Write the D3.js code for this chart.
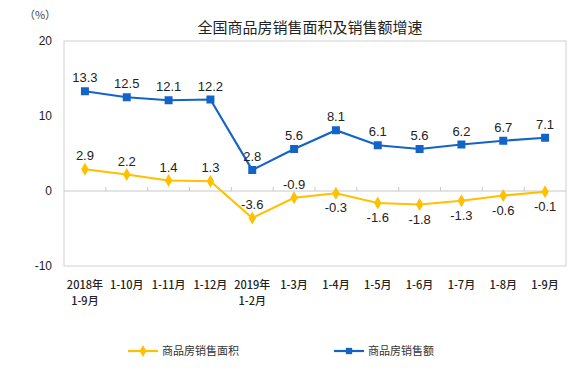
<!DOCTYPE html>
<html>
<head>
<meta charset="utf-8">
<script src="https://cdn.jsdelivr.net/npm/d3@7.9.0/dist/d3.min.js"></script>
<style>
  body { margin: 0; background: #fff; }
  svg { font-family: "Liberation Sans", Arial, sans-serif; }
</style>
</head>
<body>
<svg id="chart" width="580" height="374"></svg>
<script>
const categories = [
  ["2018年", "1-9月"], ["1-10月"], ["1-11月"], ["1-12月"], ["2019年", "1-2月"],
  ["1-3月"], ["1-4月"], ["1-5月"], ["1-6月"], ["1-7月"], ["1-8月"], ["1-9月"]
];
const areaGrowth = [2.9, 2.2, 1.4, 1.3, -3.6, -0.9, -0.3, -1.6, -1.8, -1.3, -0.6, -0.1];
const salesGrowth = [13.3, 12.5, 12.1, 12.2, 2.8, 5.6, 8.1, 6.1, 5.6, 6.2, 6.7, 7.1];
const yTicks = [-10, 0, 10, 20];
// which area labels sit above their point
const areaLabelAbove = [true, true, true, true, true, true, false, false, false, false, false, false];

const plotLeft = 64, plotRight = 566, plotTop = 41, plotBottom = 266;
const svg = d3.select("#chart");
const blue = "#1464c8", yellow = "#ffc000";

const x = d3.scaleBand().domain(d3.range(categories.length)).range([plotLeft, plotRight]);
const y = d3.scaleLinear().domain([-10, 20]).range([plotBottom, plotTop]);
const cx = i => x(i) + x.bandwidth() / 2;

svg.append("text")
  .attr("x", 310).attr("y", 33)
  .attr("text-anchor", "middle")
  .attr("font-family", "'Noto Sans CJK SC', sans-serif")
  .attr("font-size", 15).attr("fill", "#222")
  .text("全国商品房销售面积及销售额增速");

svg.append("text")
  .attr("x", 40).attr("y", 19)
  .attr("text-anchor", "middle")
  .attr("font-family", "'Noto Sans CJK SC', sans-serif")
  .attr("font-size", 11).attr("fill", "#444")
  .text("（%）");

// plot frame
svg.append("rect")
  .attr("x", plotLeft).attr("y", plotTop)
  .attr("width", plotRight - plotLeft).attr("height", plotBottom - plotTop)
  .attr("fill", "none").attr("stroke", "#d0d0d0").attr("stroke-width", 1);

// y axis labels
svg.append("g").selectAll("text").data(yTicks).join("text")
  .attr("x", 52).attr("y", d => y(d) + 4)
  .attr("text-anchor", "end")
  .attr("font-size", 12).attr("fill", "#222")
  .text(d => d);

// zero line with category ticks
svg.append("line")
  .attr("x1", plotLeft).attr("x2", plotRight)
  .attr("y1", y(0)).attr("y2", y(0))
  .attr("stroke", "#c8c8c8");
svg.append("g").selectAll("line").data(d3.range(1, categories.length)).join("line")
  .attr("x1", i => x(i)).attr("x2", i => x(i))
  .attr("y1", y(0)).attr("y2", y(0) - 4)
  .attr("stroke", "#c8c8c8");

// category labels
svg.append("g").selectAll("text").data(categories).join("text")
  .attr("text-anchor", "middle")
  .attr("font-family", "'Noto Sans CJK SC', sans-serif")
  .attr("font-size", 11).attr("font-weight", 500).attr("fill", "#222")
  .each(function (d, i) {
    d3.select(this).selectAll("tspan").data(d).join("tspan")
      .attr("x", cx(i))
      .attr("y", (t, j) => 289 + j * 16)
      .text(t => t);
  });

const line = d3.line().x((d, i) => cx(i)).y(d => y(d));

// sales line
svg.append("path").datum(salesGrowth)
  .attr("d", line).attr("fill", "none")
  .attr("stroke", blue).attr("stroke-width", 2.2);
svg.append("g").selectAll("rect").data(salesGrowth).join("rect")
  .attr("x", (d, i) => cx(i) - 4).attr("y", d => y(d) - 4)
  .attr("width", 8).attr("height", 8).attr("fill", blue);
svg.append("g").selectAll("text").data(salesGrowth).join("text")
  .attr("x", (d, i) => cx(i)).attr("y", d => y(d) - 9)
  .attr("text-anchor", "middle").attr("font-size", 13).attr("fill", "#222")
  .text(d => d.toFixed(1));

// area line
svg.append("path").datum(areaGrowth)
  .attr("d", line).attr("fill", "none")
  .attr("stroke", yellow).attr("stroke-width", 2.2);
svg.append("g").selectAll("path").data(areaGrowth).join("path")
  .attr("transform", (d, i) => `translate(${cx(i)},${y(d)})`)
  .attr("d", d3.symbol(d3.symbolDiamond, 48)())
  .attr("fill", yellow);
svg.append("g").selectAll("text").data(areaGrowth).join("text")
  .attr("x", (d, i) => cx(i))
  .attr("y", (d, i) => areaLabelAbove[i] ? y(d) - 9 : y(d) + 19)
  .attr("text-anchor", "middle").attr("font-size", 13).attr("fill", "#222")
  .text(d => d.toFixed(1));

// legend
const legend = [
  { name: "商品房销售面积", color: yellow, shape: d3.symbolDiamond, x: 128 },
  { name: "商品房销售额", color: blue, shape: d3.symbolSquare, x: 334 }
];
const lg = svg.append("g").selectAll("g").data(legend).join("g")
  .attr("transform", d => `translate(${d.x},351)`);
lg.append("line").attr("x1", 0).attr("x2", 30)
  .attr("stroke", d => d.color).attr("stroke-width", 2.2);
lg.append("path")
  .attr("transform", "translate(15,0)")
  .attr("d", d => d3.symbol(d.shape, 40)())
  .attr("fill", d => d.color);
lg.append("text").attr("x", 34).attr("y", 4)
  .attr("font-family", "'Noto Sans CJK SC', sans-serif")
  .attr("font-size", 11).attr("fill", "#333")
  .text(d => d.name);
</script>
</body>
</html>
